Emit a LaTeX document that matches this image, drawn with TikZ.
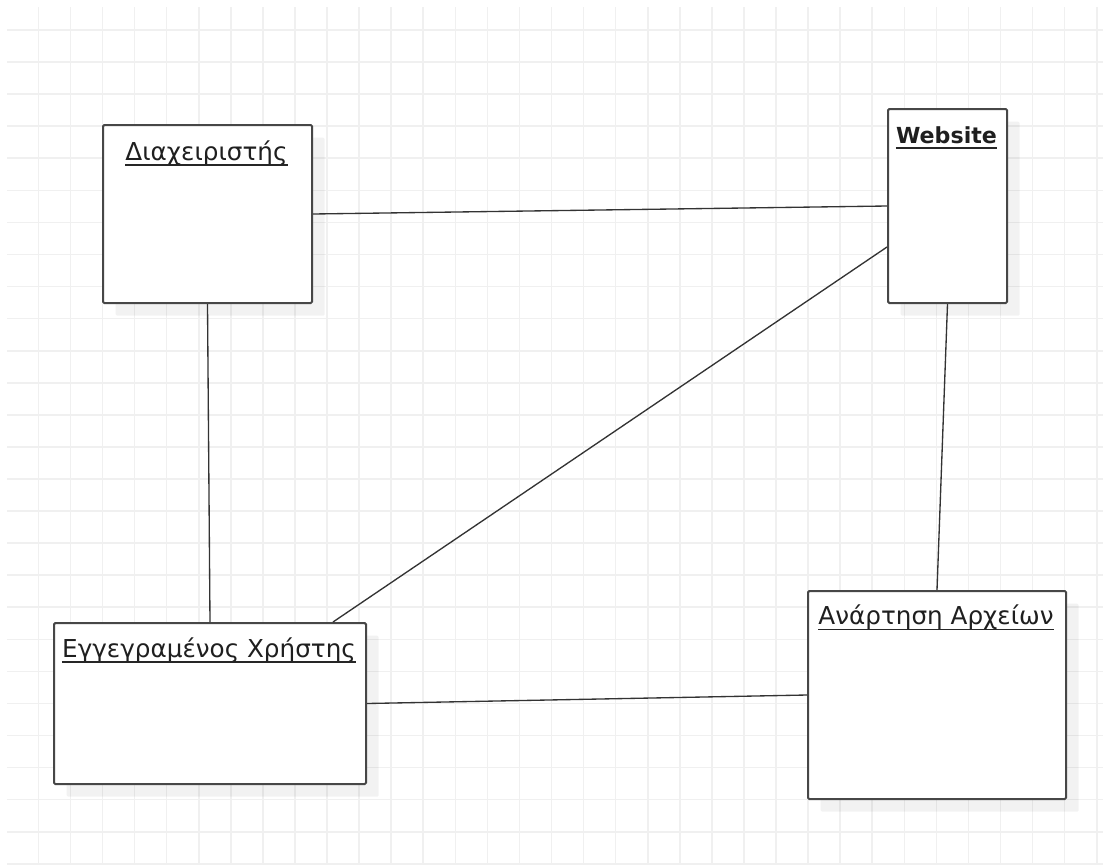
\documentclass[tikz,border=0pt]{standalone}
\usepackage{fontspec}
\setmainfont{DejaVu Sans}
\usetikzlibrary{shadows,calc}
\tikzset{
  gridline/.style={draw=black!6, line width=1.2pt},
  box/.style={draw=black!72, line width=1.5pt, fill=white, rounded corners=1pt,
    anchor=north west, inner sep=0pt,
    drop shadow={shadow xshift=9.5pt, shadow yshift=-9.5pt, fill=black, opacity=0.05}},
  title/.style={anchor=base, inner sep=0pt, font=\fontsize{18.5}{22}\selectfont, text=black!88},
  uline/.style={draw=black!85, line width=1.1pt},
  link/.style={draw=black!80, line width=1pt}
}
\begin{document}
\begin{tikzpicture}[x=0.75pt, y=-0.75pt]
\useasboundingbox (0,0) rectangle (1103,864);
\fill[white] (0,0) rectangle (1103,864);
% grid
\foreach \k in {0,...,33} {
  \draw[gridline] ({38.4+32.07*\k},7) -- ({38.4+32.07*\k},864);
}
\foreach \k in {0,...,26} {
  \draw[gridline] (7,{30+32.07*\k}) -- (1103,{30+32.07*\k});
}
% boxes
\node[box, minimum width=156.75pt, minimum height=133.5pt] (d) at (102,124) {};
\node[box, minimum width=89.25pt, minimum height=145.5pt] (w) at (887,108) {};
\node[box, minimum width=234pt, minimum height=120.75pt] (e) at (53,622) {};
\node[box, minimum width=193.5pt, minimum height=156pt] (a) at (807,590) {};
% titles
\node[title] (dt) at (206.5,160) {Διαχειριστής};
\node[title, font=\fontsize{16.6}{20}\selectfont\bfseries] (wt) at (946.5,143) {Website};
\node[title] (et) at (209,657) {Εγγεγραμένος Χρήστης};
\node[title] (at) at (936,624.5) {Ανάρτηση Αρχείων};
\foreach \t in {dt,wt,et,at} {
  \draw[uline] ([yshift=-3.6pt]\t.base west) -- ([yshift=-3.6pt]\t.base east);
}
% connectors
\draw[link] (d.east) -- (w.west);
\draw[link] (d.south) -- (e.north);
\draw[link] ([yshift=-30.75pt]w.west) -- ([xshift=92.25pt]e.north);
\draw[link] (w.south) -- (a.north);
\draw[link] (e.east) -- (a.west);
\end{tikzpicture}
\end{document}
